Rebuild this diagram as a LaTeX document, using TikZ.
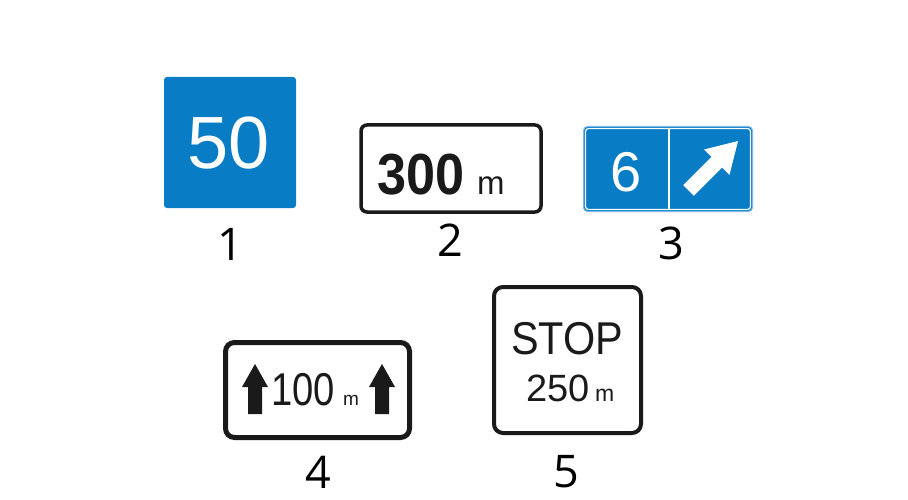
\documentclass[tikz,border=0pt]{standalone}
\usepackage{fontspec}
\setmainfont{Liberation Sans}
\newfontfamily\labelfont{Open Sans}
\usepackage{tikz}
\definecolor{signblue}{RGB}{8,124,196}
\definecolor{signedge}{RGB}{125,185,235}
\definecolor{signink}{RGB}{26,26,26}

\begin{document}
\begin{tikzpicture}[x=1pt,y=-1pt,
  plate/.style={draw=signink,fill=white,line width=4pt,rounded corners=8pt},
  signtext/.style={anchor=base,inner sep=0pt,text=signink},
  numlabel/.style={anchor=base,inner sep=0pt,font=\labelfont\fontsize{45}{45}\selectfont}]
 \useasboundingbox (0,0) rectangle (908,500);
 % sign 1
 \fill[signblue,rounded corners=3pt] (164,77) rectangle (296,208);
 \node[signtext,text=white,font=\fontsize{74}{74}\selectfont] (t50) at (229,168) {50};
 \node[numlabel] (lab1) at (230,260) {1};
 % sign 2
 \draw[plate,line width=3.5pt,rounded corners=6pt] (361,125) rectangle (541,212);
 \node[signtext,anchor=base west,font=\bfseries\fontsize{58}{58}\selectfont] (t300) at (377,194) {\scalebox{.9}[1]{300}};
 \node[signtext,anchor=base west,font=\fontsize{33}{33}\selectfont] (m300) at (477,194) {m};
 \node[numlabel] (lab2) at (450,256) {2};
 % sign 3
 \filldraw[fill=signblue,draw=signedge,line width=1pt,rounded corners=4pt] (583.5,126.5) rectangle (752.5,211.5);
 \draw[white,line width=1.2pt,rounded corners=3pt] (585.5,128.5) rectangle (750.5,209.5);
 \draw[white,line width=2pt] (669,128) -- (669,210);
 \node[signtext,text=white,font=\fontsize{56}{56}\selectfont] (t6) at (626,192) {6};
 \fill[white] (738,141) -- (729.5,174.9) -- (722.1,167.5) -- (693.8,195.8)
   -- (683.2,185.2) -- (711.5,156.9) -- (704.1,149.5) -- cycle;
 \node[numlabel] (lab3) at (671,259) {3};
 % sign 4
 \draw[plate,line width=5pt,rounded corners=9pt] (225.5,342.5) rectangle (409.5,437.5);
 \foreach \ax in {255,382}
  \fill[signink] (\ax,364) -- (\ax+13,387) -- (\ax+7,387) -- (\ax+7,414)
    -- (\ax-7,414) -- (\ax-7,387) -- (\ax-13,387) -- cycle;
 \node[signtext,anchor=base west,font=\fontsize{46}{46}\selectfont] (t100) at (271,405) {\scalebox{.83}[1]{100}};
 \node[signtext,anchor=base west,font=\fontsize{19}{19}\selectfont] (m100) at (343,405) {m};
 \node[numlabel] (lab4) at (318,488) {4};
 % sign 5
 \draw[plate,line width=4pt,rounded corners=9pt] (494,287) rectangle (641,433);
 \node[signtext,font=\fontsize{46}{46}\selectfont] (tstop) at (567,354) {\scalebox{.9}[1]{STOP}};
 \node[signtext,anchor=base west,font=\fontsize{38}{38}\selectfont] (t250) at (526,401) {250};
 \node[signtext,anchor=base west,font=\fontsize{23}{23}\selectfont] (m250) at (595,401) {m};
 \node[numlabel] (lab5) at (566,487) {5};
\end{tikzpicture}
\end{document}
